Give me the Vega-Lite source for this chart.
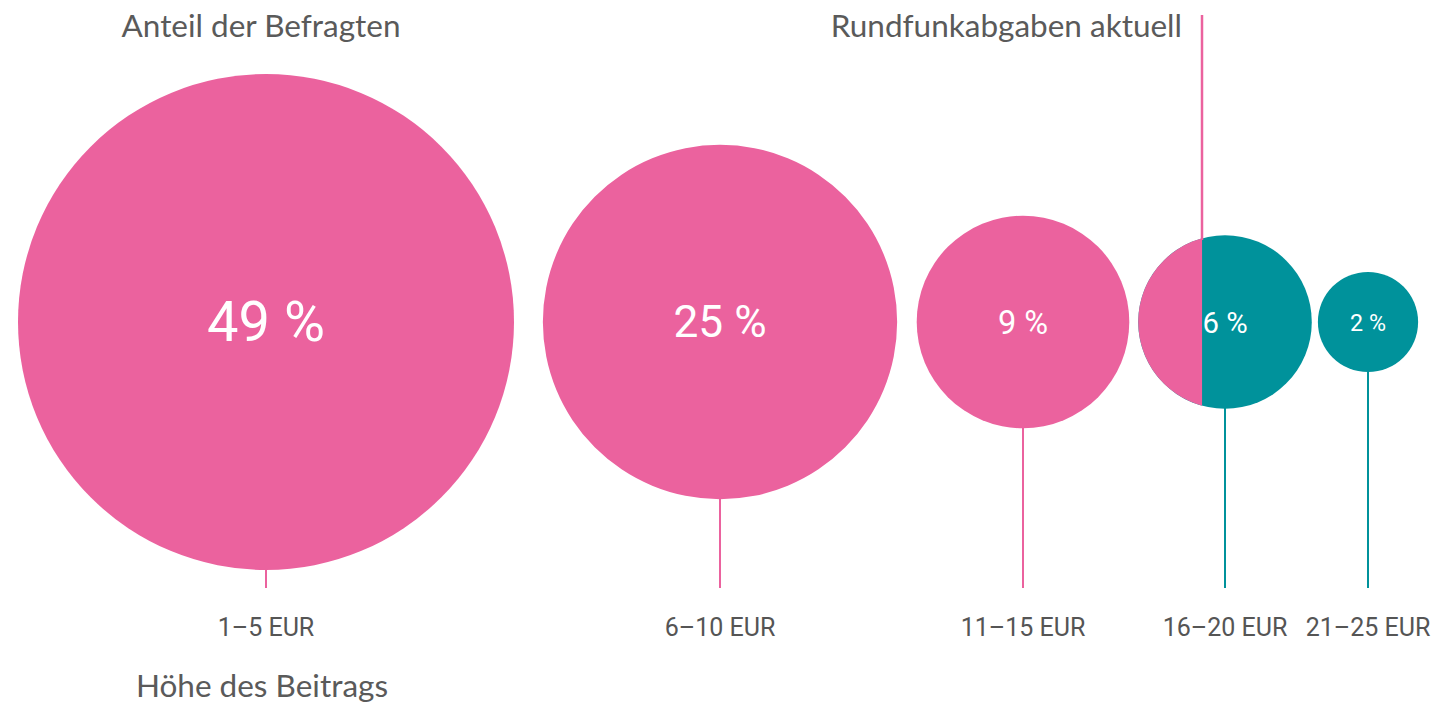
{
  "$schema": "https://vega.github.io/schema/vega-lite/v6.json",
  "autosize": {"type": "none"},
  "width": 1436,
  "height": 709,
  "padding": 0,
  "background": "white",
  "config": {"view": {"stroke": null}},
  "resolve": {"scale": {"size": "independent"}},
  "data": {
    "values": [
      {"kategorie": "1–5 EUR", "anteil": 49, "label": "49 %", "xpos": 266, "gruppe": "unter"},
      {"kategorie": "6–10 EUR", "anteil": 25, "label": "25 %", "xpos": 720, "gruppe": "unter"},
      {"kategorie": "11–15 EUR", "anteil": 9, "label": "9 %", "xpos": 1023, "gruppe": "unter"},
      {"kategorie": "16–20 EUR", "anteil": 6, "label": "6 %", "xpos": 1225, "gruppe": "über"},
      {"kategorie": "21–25 EUR", "anteil": 2, "label": "2 %", "xpos": 1368, "gruppe": "über"}
    ]
  },
  "encoding": {
    "x": {"field": "xpos", "type": "quantitative", "scale": {"domain": [0, 1436], "nice": false, "zero": false}, "axis": null}
  },
  "layer": [
    {
      "mark": {"type": "rule", "strokeWidth": 2},
      "encoding": {
        "y": {"datum": 322, "type": "quantitative", "scale": {"domain": [0, 709], "reverse": true, "nice": false, "zero": false}, "axis": null},
        "y2": {"datum": 588},
        "color": {"field": "gruppe", "type": "nominal", "scale": {"domain": ["unter", "über"], "range": ["#EB629E", "#00929B"]}, "legend": null}
      }
    },
    {
      "mark": {"type": "point", "shape": "circle", "filled": true, "opacity": 1},
      "encoding": {
        "y": {"datum": 322, "type": "quantitative"},
        "size": {"field": "anteil", "type": "quantitative", "scale": {"type": "linear", "domain": [0, 49], "range": [0, 246016]}, "legend": null},
        "color": {"field": "gruppe", "type": "nominal", "legend": null}
      }
    },
    {
      "transform": [{"filter": "datum.kategorie === '16–20 EUR'"}],
      "mark": {"type": "point", "filled": true, "opacity": 1, "color": "#EB629E", "shape": "M -0.264 -0.9645 A 1 1 0 0 0 -0.264 0.9645 Z"},
      "encoding": {
        "y": {"datum": 322, "type": "quantitative"},
        "size": {"field": "anteil", "type": "quantitative", "scale": {"type": "linear", "domain": [0, 49], "range": [0, 246016]}, "legend": null}
      }
    },
    {
      "transform": [{"filter": "datum.kategorie === '16–20 EUR'"}],
      "mark": {"type": "rule", "strokeWidth": 2.5, "color": "#EB629E"},
      "encoding": {
        "x": {"datum": 1202, "type": "quantitative"},
        "y": {"datum": 15, "type": "quantitative"},
        "y2": {"datum": 240}
      }
    },
    {
      "mark": {"type": "text", "color": "white", "font": "Roboto", "fontWeight": "normal", "align": "center", "baseline": "middle"},
      "encoding": {
        "y": {"datum": 324, "type": "quantitative"},
        "text": {"field": "label"},
        "size": {"field": "anteil", "type": "quantitative", "scale": {"type": "sqrt", "domain": [0, 49], "range": [15, 56]}, "legend": null}
      }
    },
    {
      "mark": {"type": "text", "color": "#555555", "font": "Roboto", "fontWeight": "normal", "fontSize": 25, "align": "center", "baseline": "middle"},
      "encoding": {
        "y": {"datum": 628, "type": "quantitative"},
        "text": {"field": "kategorie"}
      }
    },
    {
      "transform": [{"filter": "datum.kategorie === '1–5 EUR'"}],
      "mark": {"type": "text", "color": "#5a5a5a", "font": "Lato", "fontSize": 31.5, "align": "center", "baseline": "middle"},
      "encoding": {
        "x": {"datum": 261, "type": "quantitative"},
        "y": {"datum": 28, "type": "quantitative"},
        "text": {"value": "Anteil der Befragten"}
      }
    },
    {
      "transform": [{"filter": "datum.kategorie === '1–5 EUR'"}],
      "mark": {"type": "text", "color": "#5a5a5a", "font": "Lato", "fontSize": 31.5, "align": "center", "baseline": "middle"},
      "encoding": {
        "x": {"datum": 262, "type": "quantitative"},
        "y": {"datum": 688, "type": "quantitative"},
        "text": {"value": "Höhe des Beitrags"}
      }
    },
    {
      "transform": [{"filter": "datum.kategorie === '1–5 EUR'"}],
      "mark": {"type": "text", "color": "#5a5a5a", "font": "Lato", "fontSize": 31.5, "align": "right", "baseline": "middle"},
      "encoding": {
        "x": {"datum": 1182, "type": "quantitative"},
        "y": {"datum": 28, "type": "quantitative"},
        "text": {"value": "Rundfunkabgaben aktuell"}
      }
    }
  ]
}
